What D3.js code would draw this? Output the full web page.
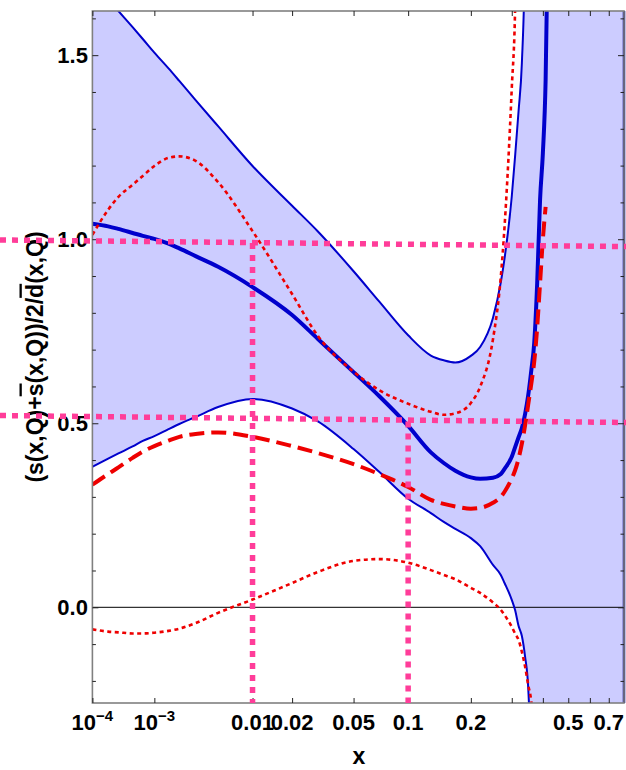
<!DOCTYPE html>
<html>
<head>
<meta charset="utf-8">
<script src="https://cdn.jsdelivr.net/npm/d3@7"></script>
<style>
  body { margin: 0; background: #fff; }
  svg { display: block; }
  text { font-family: "Liberation Sans", Arial, sans-serif; font-weight: bold; fill: #000; }
</style>
</head>
<body>
<svg id="chart" width="626" height="770"></svg>
<script>
// x grid shared by every curve (null = curve not drawn there)
const xGrid = [1e-4, 2e-4, 3e-4, 5e-4, 7e-4, 1e-3, 1.5e-3, 2e-3, 3e-3, 5e-3,
  0.01, 0.02, 0.03, 0.05, 0.07, 0.1, 0.13, 0.15, 0.17, 0.2,
  0.22, 0.25, 0.27, 0.28, 0.3, 0.31, 0.32, 0.33, 0.34, 0.35,
  0.36, 0.37, 0.38, 0.39, 0.4, 0.41, 0.42, 0.45, 0.5, 0.6, 0.7, 0.79];

// uncertainty band edges
const bandUpper = [1.70, 1.652, 1.62, 1.576, 1.544, 1.507, 1.464, 1.430, 1.378, 1.307,
  1.199, 1.091, 1.021, 0.913, 0.831, 0.739, 0.684, 0.671, 0.665, 0.683,
  0.707, 0.786, 0.883, 0.948, 1.116, 1.230, 1.349, 1.479, 1.80, 3.0,
  3.0, 3.0, 3.0, 3.0, 3.0, 3.0, 3.0, 3.0, 3.0, 3.0, 3.0, 3.0];
const bandLower = [0.382, 0.404, 0.418, 0.437, 0.452, 0.465, 0.484, 0.498, 0.517, 0.544,
  0.566, 0.540, 0.505, 0.430, 0.368, 0.295, 0.256, 0.232, 0.213, 0.188,
  0.166, 0.115, 0.088, 0.066, 0.020, -0.009, -0.051, -0.078, -0.134, -0.219,
  -0.5, -3, -3, -3, -3, -3, -3, -3, -3, -3, -3, -3];

// central fit
const central = [1.042, 1.035, 1.028, 1.017, 1.009, 1.001, 0.988, 0.975, 0.954, 0.925,
  0.870, 0.794, 0.729, 0.639, 0.574, 0.493, 0.421, 0.392, 0.371, 0.353,
  0.349, 0.352, 0.362, 0.376, 0.409, 0.436, 0.462, 0.487, 0.525, 0.576,
  0.643, 0.720, 0.881, 1.107, 1.234, 1.433, 1.9, null, null, null, null, null];

// comparison set (long dashes)
const comparison = [0.333, 0.362, 0.380, 0.406, 0.423, 0.438, 0.453, 0.463, 0.471, 0.475,
  0.463, 0.438, 0.419, 0.389, 0.362, 0.327, 0.292, 0.281, 0.274, 0.268,
  0.270, 0.284, 0.300, 0.314, 0.350, 0.373, 0.404, 0.445, 0.494, 0.551,
  0.607, 0.668, 0.761, 0.881, 1.000, 1.088, null, null, null, null, null, null];

// comparison error bounds (short dashes)
const compUpper = [1.012, 1.080, 1.115, 1.148, 1.172, 1.199, 1.221, 1.225, 1.213, 1.155,
  1.022, 0.851, 0.737, 0.640, 0.590, 0.553, 0.531, 0.523, 0.527, 0.555,
  0.599, 0.728, 0.898, 1.035, 1.41, 1.64, 2.3, null, null, null,
  null, null, null, null, null, null, null, null, null, null, null, null];
const compLower = [-0.060, -0.066, -0.068, -0.071, -0.071, -0.069, -0.064, -0.058, -0.043, -0.015,
  0.021, 0.066, 0.096, 0.126, 0.131, 0.121, 0.101, 0.088, 0.076, 0.053,
  0.039, 0.013, -0.007, -0.021, -0.053, -0.072, -0.089, -0.121, -0.161, -0.211,
  -0.255, -0.35, null, null, null, null, null, null, null, null, null, null];

// axis ticks
const xTickValues = [1e-4, 1e-3, 0.01, 0.02, 0.05, 0.1, 0.2, 0.3, 0.4, 0.5, 0.6, 0.7];
const xTickLabels = ["10^−4", "10^−3", "0.01", "0.02", "0.05", "0.1", "0.2", "", "", "0.5", "", "0.7"];
const yMajorTicks = [0, 0.5, 1.0, 1.5];
const yMajorLabels = ["0.0", "0.5", "1.0", "1.5"];
const yMinorTicks = [-0.2, -0.1, 0.1, 0.2, 0.3, 0.4, 0.6, 0.7, 0.8, 0.9, 1.1, 1.2, 1.3, 1.4, 1.6];

// reference guide lines: horizontal [value at left edge, value at right edge], vertical [x, top value]
const guideH = [[0.998, 0.980], [0.521, 0.502]];
const guideV = [[0.01, 0.99], [0.1, 0.505]];

const W = 626, H = 770;
const plot = { left: 92.4, right: 624, top: 11, bottom: 703 };

const x = d3.scalePow().exponent(0.2).domain([1e-4, 0.79]).range([plot.left, plot.right]);
const y = d3.scaleLinear().domain([-0.26, 1.62]).range([plot.bottom, plot.top]);

const svg = d3.select("#chart");
svg.append("defs").append("clipPath").attr("id", "clip")
  .append("rect")
  .attr("x", plot.left).attr("y", plot.top)
  .attr("width", plot.right - plot.left + 2).attr("height", plot.bottom - plot.top);

const idx = d3.range(xGrid.length);
const g = svg.append("g").attr("clip-path", "url(#clip)");

// band fill
g.append("path")
  .attr("d", d3.area()
    .curve(d3.curveMonotoneX)
    .x(i => x(xGrid[i]))
    .y0(i => y(bandLower[i]))
    .y1(i => y(bandUpper[i]))(idx))
  .attr("fill", "#ccccff");

// zero line
g.append("line")
  .attr("x1", plot.left).attr("x2", plot.right)
  .attr("y1", y(0)).attr("y2", y(0))
  .attr("stroke", "#000").attr("stroke-width", 1);

function curve(values, stroke, width, dash) {
  const line = d3.line()
    .curve(d3.curveMonotoneX)
    .defined(i => values[i] !== null)
    .x(i => x(xGrid[i]))
    .y(i => y(values[i]));
  const p = g.append("path")
    .attr("d", line(idx))
    .attr("fill", "none")
    .attr("stroke", stroke)
    .attr("stroke-width", width)
    .attr("stroke-linejoin", "round");
  if (dash) p.attr("stroke-dasharray", dash);
  return p;
}

const blue = "#0000cc";
const red = "#ee0000";

// band edges
curve(bandUpper, blue, 2);
curve(bandLower, blue, 2);
// right edge of the band
const last = xGrid.length - 1;
g.append("line")
  .attr("x1", x(xGrid[last])).attr("x2", x(xGrid[last]))
  .attr("y1", y(bandLower[last])).attr("y2", y(bandUpper[last]))
  .attr("stroke", "#000088").attr("stroke-width", 2.5);

curve(central, blue, 4);
curve(compUpper, red, 2.6, "4 3.5");
curve(compLower, red, 2.6, "4 3.5");
curve(comparison, red, 4, "15 7");

// frame
svg.append("rect")
  .attr("x", plot.left).attr("y", plot.top)
  .attr("width", plot.right - plot.left).attr("height", plot.bottom - plot.top)
  .attr("fill", "none").attr("stroke", "#808080").attr("stroke-width", 1.6);

function styleAxis(sel) {
  sel.select(".domain").remove();
  sel.selectAll(".tick line").attr("stroke", "#222").attr("stroke-width", 1);
}

// y axes (ticks point inward)
svg.append("g").attr("transform", `translate(${plot.left},0)`)
  .call(d3.axisLeft(y).tickValues(yMajorTicks).tickSize(-6).tickPadding(4.5)
    .tickFormat((d, i) => yMajorLabels[i]))
  .call(styleAxis)
  .call(s => s.attr("font-size", 22).attr("font-family", null))
  .call(s => s.selectAll("text").attr("font-size", 22));
svg.append("g").attr("transform", `translate(${plot.left},0)`)
  .call(d3.axisLeft(y).tickValues(yMinorTicks).tickSize(-3.5).tickFormat(""))
  .call(styleAxis);
svg.append("g").attr("transform", `translate(${plot.right},0)`)
  .call(d3.axisRight(y).tickValues(yMajorTicks).tickSize(-6).tickFormat(""))
  .call(styleAxis);
svg.append("g").attr("transform", `translate(${plot.right},0)`)
  .call(d3.axisRight(y).tickValues(yMinorTicks).tickSize(-3.5).tickFormat(""))
  .call(styleAxis);

// x axes
svg.append("g").attr("transform", `translate(0,${plot.bottom})`)
  .call(d3.axisBottom(x).tickValues(xTickValues).tickSize(-5).tickFormat(""))
  .call(styleAxis);
svg.append("g").attr("transform", `translate(0,${plot.top})`)
  .call(d3.axisTop(x).tickValues(xTickValues).tickSize(-5).tickFormat(""))
  .call(styleAxis);

// x tick labels (with superscript exponents)
const xl = svg.append("g");
xTickValues.forEach((v, i) => {
  const lab = xTickLabels[i];
  if (!lab) return;
  const t = xl.append("text")
    .attr("x", x(v)).attr("y", 730)
    .attr("text-anchor", "middle")
    .attr("font-size", 22);
  const parts = lab.split("^");
  t.append("tspan").text(parts[0]);
  if (parts.length > 1) {
    t.append("tspan").attr("font-size", 15).attr("dy", -9).text(parts[1]);
  }
});

// axis titles
svg.append("text")
  .attr("x", 359).attr("y", 764)
  .attr("text-anchor", "middle")
  .attr("font-size", 23)
  .text("x");

const yt = svg.append("text")
  .attr("transform", "translate(42.5,357) rotate(-90)")
  .attr("text-anchor", "middle")
  .attr("font-size", 23);
yt.append("tspan").text("(s(x,Q)+");
yt.append("tspan").style("text-decoration", "overline").text("s");
yt.append("tspan").text("(x,Q))/2/");
yt.append("tspan").style("text-decoration", "overline").text("d");
yt.append("tspan").text("(x,Q)");

// guide lines on top
const pink = "#ff3d99";
const gg = svg.append("g");
guideH.forEach(([v0, v1]) => {
  gg.append("line")
    .attr("x1", 0).attr("x2", W)
    .attr("y1", y(v0)).attr("y2", y(v1))
    .attr("stroke", pink).attr("stroke-width", 5.5)
    .attr("stroke-dasharray", "6 6");
});
guideV.forEach(([xv, vTop]) => {
  gg.append("line")
    .attr("x1", x(xv)).attr("x2", x(xv))
    .attr("y1", y(vTop)).attr("y2", plot.bottom)
    .attr("stroke", pink).attr("stroke-width", 5.5)
    .attr("stroke-dasharray", "6 6");
});
</script>
</body>
</html>
